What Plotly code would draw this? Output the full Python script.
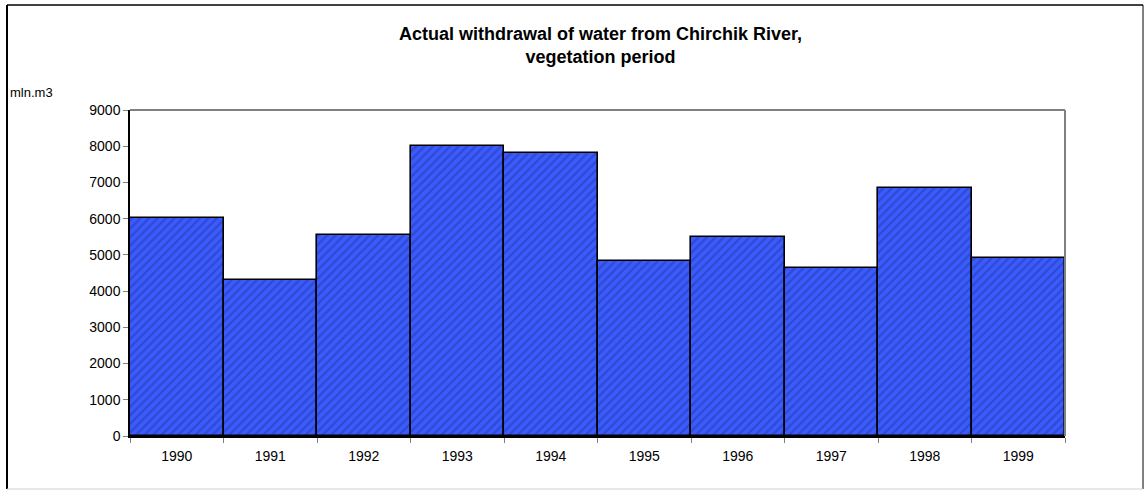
import plotly.graph_objects as go

# Annual withdrawal, vegetation period (mln. m3)
years = ["1990", "1991", "1992", "1993", "1994", "1995", "1996", "1997", "1998", "1999"]
withdrawal = [6020, 4310, 5560, 8020, 7810, 4840, 5500, 4650, 6860, 4910]
y_ticks = [0, 1000, 2000, 3000, 4000, 5000, 6000, 7000, 8000, 9000]

W, H = 1146, 491
L, R, T, B = 130, 1065, 110, 436  # plot area in pixels


def px(x):
    return (x - L) / (R - L)


def py(y):
    return (B - y) / (B - T)


FONT = "Arial, Liberation Sans, sans-serif"

fig = go.Figure(
    go.Bar(
        x=years,
        y=withdrawal,
        marker=dict(
            color="#3a5cff",
            line=dict(color="#000000", width=1.6),
            pattern=dict(shape="/", bgcolor="#3a5cff", fgcolor="#2836a0",
                         size=6, solidity=0.38),
        ),
        hoverinfo="x+y",
    )
)

fig.update_layout(
    width=W,
    height=H,
    margin=dict(l=L, r=W - R, t=T, b=H - B, pad=0),
    paper_bgcolor="white",
    plot_bgcolor="white",
    bargap=0,
    showlegend=False,
    font=dict(family=FONT, size=14, color="#000000"),
    xaxis=dict(
        type="category",
        tickson="boundaries",
        ticks="outside",
        ticklen=5,
        tickcolor="#808080",
        showline=True,
        linecolor="#000000",
        linewidth=2,
        showgrid=False,
        tickfont=dict(size=14),
        ticklabelstandoff=6,
    ),
    yaxis=dict(
        range=[0, 9000],
        tickvals=y_ticks,
        ticks="outside",
        ticklen=5,
        tickcolor="#808080",
        showline=True,
        linecolor="#000000",
        linewidth=1.5,
        showgrid=False,
        zeroline=False,
        tickfont=dict(size=14),
    ),
    annotations=[
        dict(
            text="<b>Actual withdrawal of water from Chirchik River,<br>vegetation period</b>",
            xref="paper", yref="paper", x=px(600), y=py(45),
            xanchor="center", yanchor="middle", showarrow=False,
            font=dict(family=FONT, size=18, color="#000000"),
        ),
        dict(
            text="mln.m3",
            xref="paper", yref="paper", x=px(8), y=py(92),
            xanchor="left", yanchor="middle", showarrow=False,
            font=dict(family=FONT, size=13, color="#000000"),
        ),
    ],
    shapes=[
        # plot-area frame (top and right edges)
        dict(type="line", xref="paper", yref="paper", x0=0, x1=1, y0=1, y1=1,
             line=dict(color="#808080", width=2)),
        dict(type="line", xref="paper", yref="paper", x0=1, x1=1, y0=0, y1=1,
             line=dict(color="#808080", width=2)),
        # outer chart border
        dict(type="line", xref="paper", yref="paper", x0=px(7), x1=px(1143), y0=py(5), y1=py(5),
             line=dict(color="#000000", width=1.5)),
        dict(type="line", xref="paper", yref="paper", x0=px(7), x1=px(7), y0=py(5), y1=py(489),
             line=dict(color="#000000", width=2)),
        dict(type="line", xref="paper", yref="paper", x0=px(1143), x1=px(1143), y0=py(5), y1=py(489),
             line=dict(color="#000000", width=1)),
        dict(type="line", xref="paper", yref="paper", x0=px(7), x1=px(1143), y0=py(489), y1=py(489),
             line=dict(color="#d0d0d0", width=1)),
    ],
)

fig.write_html("out.html")
